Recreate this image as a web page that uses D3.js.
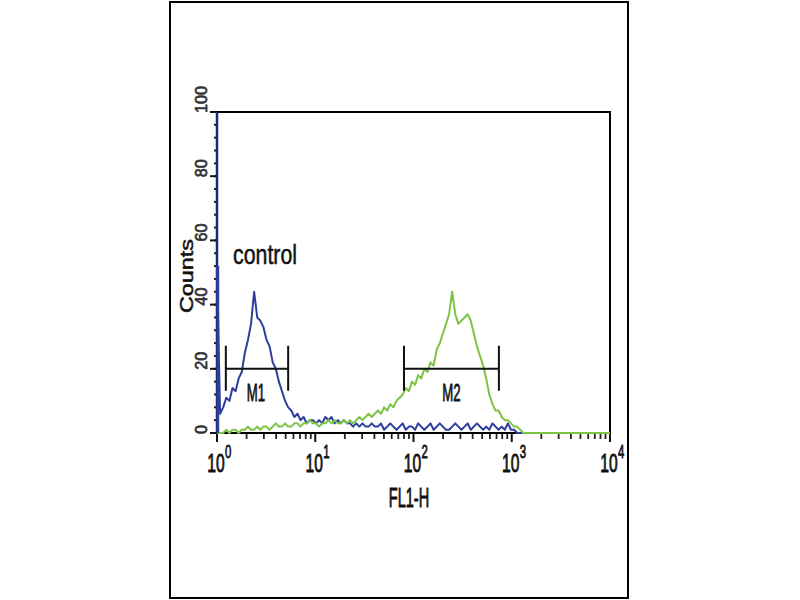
<!DOCTYPE html>
<html><head><meta charset="utf-8">
<script src="https://cdn.jsdelivr.net/npm/d3@7"></script>
<style>html,body{margin:0;padding:0;background:#fff;}svg{display:block;}</style>
</head><body>
<script>
// ---- data ----
const controlCounts = [
 52,6,8,11,10,14,13,17,19,25,
 29,34,44,36,35,33,29,27,22,20,
 16,13,10,8,7,5,6,4,5,3,
 4,4,3,4,3,5,4,5,3,4,
 3,4,3,3,2,3,2,3,2,2,
 3,2,2,3,1,2,3,2,1,2,
 3,1,2,2,1,3,2,1,2,3,
 1,2,3,2,1,1,2,3,2,1,
 2,3,1,2,3,2,1,2,1,3,
 2,1,2,1,3,1,1,0,0,0,
 0,0,0,0,0,0,0,0,0,0,
 0,0,0,0,0,0,0,0,0,0,
 0,0,0,0,0,0,0,0
];
const sampleCounts = [
 0,0,0,1,0,1,1,0,1,1,
 2,1,1,2,1,2,2,1,2,3,
 2,2,3,2,2,3,3,2,3,3,
 4,3,3,2,3,3,4,3,4,3,
 3,4,3,4,3,4,5,4,5,6,
 5,6,7,6,8,7,9,8,10,11,
 12,14,13,16,15,18,17,20,19,22,
 21,26,28,31,34,37,44,37,34,35,
 36,37,35,31,27,24,21,17,12,9,
 7,7,5,4,4,3,2,2,1,0,
 0,0,0,0,0,0,0,0,0,0,
 0,0,0,0,0,0,0,0,0,0,
 0,0,0,0,0,0,0,0
];
const yTicks = [0,20,40,60,80,100];
const xDecades = [0,1,2,3,4];
const markers = [
  {label:"M1", from:1.23, to:5.3, level:20},
  {label:"M2", from:80, to:740, level:20}
];
const annotation = "control";
const xTitle = "FL1-H";
const yTitle = "Counts";

// ---- layout ----
const W=800,H=600;
const L=217,R=610,T=112,B=433;
const x = d3.scaleLog().domain([1,1e4]).range([L,R]);
const y = d3.scaleLinear().domain([0,100]).range([B,T]);
const nCh = controlCounts.length;
const chVal = i => Math.pow(10, 4*i/(nCh-1));

const svg = d3.select("body").append("svg").attr("width",W).attr("height",H);
svg.append("rect").attr("width",W).attr("height",H).attr("fill","#fff");
svg.append("rect").attr("x",170).attr("y",2).attr("width",458).attr("height",596)
  .attr("fill","none").attr("stroke","#000").attr("stroke-width",2);

const FONT = "'Liberation Sans', Arial, sans-serif";
function txt(g, s, tx, ty, opts){
  const t = g.append("text")
    .attr("transform", `translate(${tx},${ty}) rotate(${opts.rot||0}) scale(${opts.sx||1},${opts.sy||1})`)
    .attr("font-family", FONT).attr("font-size", opts.fs)
    .attr("text-anchor", opts.anchor||"start").attr("fill","#111")
    .attr("stroke", opts.col||"#111").attr("stroke-width", opts.sw==null?0.6:opts.sw)
    .text(s);
  if (opts.col) t.attr("fill", opts.col);
  return t;
}

// frame of plot (top & right)
svg.append("path").attr("d",`M${L},${T}H${R}V${B}`).attr("fill","none").attr("stroke","#000").attr("stroke-width",2);

// y axis
const yMinor = d3.range(0,101,4);
svg.append("g").selectAll("line").data(yMinor).join("line")
  .attr("x1",L-3).attr("x2",L).attr("y1",d=>y(d)).attr("y2",d=>y(d))
  .attr("stroke","#222").attr("stroke-width",2);
svg.append("g").selectAll("line").data(yTicks).join("line")
  .attr("x1",L-7).attr("x2",L).attr("y1",d=>y(d)).attr("y2",d=>y(d))
  .attr("stroke","#111").attr("stroke-width",2);
svg.append("line").attr("x1",L).attr("x2",L).attr("y1",T).attr("y2",B).attr("stroke","#1f2a6e").attr("stroke-width",2.5);
const gy = svg.append("g");
yTicks.forEach(v => txt(gy, String(v), 207, y(v)+1, {rot:-90, fs:17, sx:0.95, col:"#333", sw:0.7}));
txt(gy, yTitle, 193, 276, {rot:-90, fs:18, sx:1.3, anchor:"middle", sw:0.5});

// x axis
const xMinor = [];
xDecades.slice(0,-1).forEach(d => { for(let k=2;k<=9;k++) xMinor.push(k*Math.pow(10,d)); });
svg.append("g").selectAll("line").data(xMinor).join("line")
  .attr("x1",d=>x(d)).attr("x2",d=>x(d)).attr("y1",B).attr("y2",B+6)
  .attr("stroke","#222").attr("stroke-width",1.8);
svg.append("g").selectAll("line").data(xDecades).join("line")
  .attr("x1",d=>x(Math.pow(10,d))).attr("x2",d=>x(Math.pow(10,d))).attr("y1",B).attr("y2",B+9)
  .attr("stroke","#111").attr("stroke-width",2);
svg.append("line").attr("x1",L).attr("x2",R).attr("y1",B).attr("y2",B).attr("stroke","#000").attr("stroke-width",2);
const gx = svg.append("g");
xDecades.forEach(d => {
  const px = x(Math.pow(10,d));
  txt(gx, "10", px-1, 472, {fs:26, sx:0.6, anchor:"middle", sw:0.9});
  txt(gx, String(d), px+8, 458, {fs:19, sx:0.6, sw:0.8});
});
txt(gx, xTitle, 409, 507, {fs:28, sx:0.52, anchor:"middle", sw:0.9});

// histograms
const line = d3.line().x((d,i)=>x(chVal(i))).y(d=>y(d));
svg.append("path").datum(controlCounts).attr("d",line)
  .attr("fill","none").attr("stroke","#2f3d9c").attr("stroke-width",2).attr("stroke-linejoin","round");
svg.append("path").datum(sampleCounts).attr("d",line)
  .attr("fill","none").attr("stroke","#7cc444").attr("stroke-width",2).attr("stroke-linejoin","round");
// first-channel spike of control
svg.append("line").attr("x1",x(chVal(0))+1).attr("x2",x(chVal(0))+1)
  .attr("y1",y(0)).attr("y2",y(controlCounts[0])).attr("stroke","#2f3d9c").attr("stroke-width",2.5);

// markers
const gm = svg.append("g");
markers.forEach(m => {
  const x1=x(m.from), x2=x(m.to), yy=y(m.level);
  gm.append("path").attr("d",`M${x1},${yy-23}V${yy+22}M${x2},${yy-23}V${yy+22}M${x1},${yy}H${x2}`)
    .attr("fill","none").attr("stroke","#111").attr("stroke-width",2);
  txt(gm, m.label, (x1+x2)/2+(m.label==="M1"?-1:0), yy+32, {fs:24, sx:0.55, anchor:"middle", sw:0.8});
});

// annotation
txt(svg, annotation, 233, 264, {fs:27, sx:0.79, sw:0.5});
</script>
</body></html>
